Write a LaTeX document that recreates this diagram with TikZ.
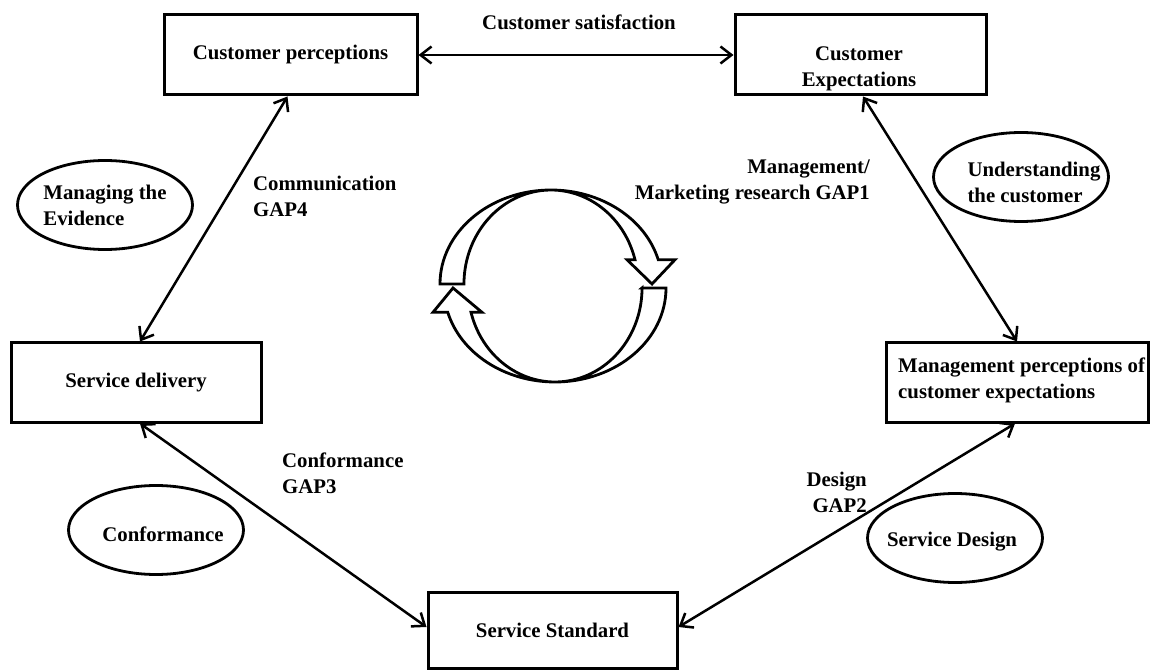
\documentclass[tikz,border=0pt]{standalone}
\usepackage{fontspec}
\setmainfont{Liberation Serif}
\usetikzlibrary{arrows.meta,shapes.geometric}
\begin{document}
\begin{tikzpicture}[x=1pt,y=1pt,
  every node/.style={font=\bfseries\fontsize{20.8}{26}\selectfont, inner sep=0pt},
  box/.style={draw, line width=3pt, rectangle},
  oval/.style={draw, line width=2.8pt, ellipse, minimum width=175pt, minimum height=89pt},
  txt/.style={align=left},
  link/.style={line width=2.5pt, {Straight Barb[length=11pt,width=17pt]}-{Straight Barb[length=11pt,width=17pt]}},
  cyc/.style={draw, line width=2.8pt, line join=miter}
]
\useasboundingbox (0,0) rectangle (1153,670);

% gap model boxes
\node[box, minimum width=253pt, minimum height=80pt] (cp) at (290.5,615) {Customer perceptions};
\node[box, minimum width=251pt, minimum height=80pt] (ce) at (860.5,615) {};
\node[align=center] (cet) at (859,601.5) {Customer\\Expectations};
\node[box, minimum width=250pt, minimum height=79pt] (sd) at (136,287.5) {Service delivery};
\node[box, minimum width=262pt, minimum height=79pt] (mp) at (1017,287.5) {};
\node[txt, anchor=west] (mpt) at (898,289.5) {Management perceptions of\\customer expectations};
\node[box, minimum width=249pt, minimum height=76pt] (ss) at (552.5,40) {Service Standard};

% ovals
\node[oval, align=left] (me) at (105,465) {Managing the\\Evidence};
\node[oval] (uc) at (1021,493) {};
\node[txt] (uct) at (1034,487.5) {Understanding\\the customer};
\node[oval] (cf) at (156,140) {};
\node (cft) at (163,136) {Conformance};
\node[oval] (sdn) at (955,132) {};
\node (sdnt) at (952,128) {Service Design};

% gap labels
\node (sat) at (579,648) {Customer satisfaction};
\node[txt, anchor=west] (g4) at (253,474) {Communication\\GAP4};
\node[align=right, anchor=east] (g1) at (870,488.5) {Management/\\Marketing research GAP1};
\node[txt, anchor=west] (g3) at (282,196.5) {Conformance\\GAP3};
\node[align=right, anchor=east] (g2) at (867,177.5) {Design\\GAP2};

% connectors
\draw[link] (cp.east) -- (ce.west);
\draw[link] ([xshift=-3pt]cp.south) -- ([xshift=4pt]sd.north);
\draw[link] ([xshift=2.5pt]ce.south) -- (mp.north);
\draw[link] ([xshift=4pt]sd.south) -- ([yshift=3pt]ss.west);
\draw[link] ([xshift=-2pt]mp.south) -- ([yshift=3pt]ss.east);

% cycle of two curved arrows
\draw[cyc] (440,386) arc[start angle=180,end angle=15,x radius=111,y radius=94]
  -- (675,410.3) -- (652,386) -- (627,410.3) -- (635,410.3)
  arc[start angle=15,end angle=180,x radius=87,y radius=94] -- cycle;
\draw[cyc] (642,382) -- (666,382) arc[start angle=0,end angle=-165,x radius=111,y radius=94]
  -- (433,357.7) -- (453,382) -- (482,357.7) -- (471,357.7)
  arc[start angle=-165,end angle=0,x radius=87,y radius=94] -- cycle;
\end{tikzpicture}
\end{document}
